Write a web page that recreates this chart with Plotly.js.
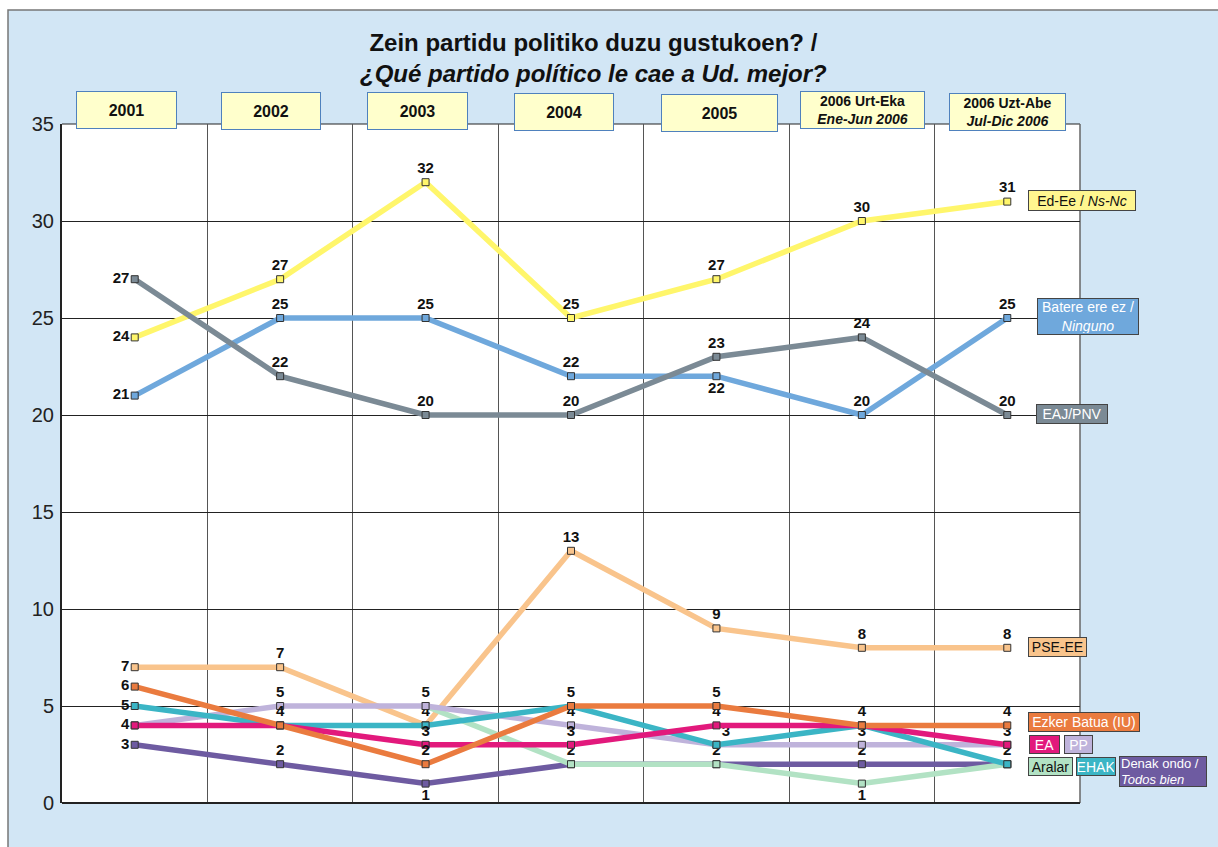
<!DOCTYPE html>
<html><head><meta charset="utf-8">
<script src="https://cdn.plot.ly/plotly-3.0.1.min.js"></script>
<style>body{margin:0;background:#fff}#chart{width:1218px;height:847px}</style>
</head><body><div id="chart"></div>
<script>
// ---- data ----
const periods = ["2001","2002","2003","2004","2005","2006 Urt-Eka","2006 Uzt-Abe"];
const headerLabels = ["<b>2001</b>","<b>2002</b>","<b>2003</b>","<b>2004</b>","<b>2005</b>",
  "<b>2006 Urt-Eka</b><br><b><i>Ene-Jun 2006</i></b>","<b>2006 Uzt-Abe</b><br><b><i>Jul-Dic 2006</i></b>"];
const seriesNames = ["Ed-Ee / Ns-Nc","Batere ere ez / Ninguno","EAJ/PNV","PSE-EE","Denak ondo / Todos bien","Aralar","PP","EHAK","EA","Ezker Batua (IU)"];
const edEe    = [24,27,32,25,27,30,31];
const batere  = [21,25,25,22,22,20,25];
const eajPnv  = [27,22,20,20,23,24,20];
const pseEe   = [7,7,4,13,9,8,8];
const denak   = [3,2,1,2,2,2,2];
const aralar  = [null,null,5,2,2,1,2];
const pp      = [4,5,5,4,3,3,3];
const ehak    = [5,4,4,5,3,4,2];
const ea      = [4,4,3,3,4,4,3];
const ezker   = [6,4,2,5,5,4,4];
// which points show a value label (1 = show)
const showEdEe   = [1,1,1,1,1,1,1];
const showBatere = [1,1,1,1,1,1,1];
const showEaj    = [1,1,1,1,1,1,1];
const showPse    = [1,1,1,1,1,1,1];
const showDenak  = [1,1,1,0,0,1,0];
const showAralar = [0,0,0,1,1,1,0];
const showPp     = [0,1,1,1,1,1,0];
const showEhak   = [1,0,0,0,0,0,1];
const showEa     = [1,0,1,1,1,0,1];
const showEzker  = [1,1,1,1,1,1,1];

// ---- styling ----
const colors = {ed:'#FFF66B',bat:'#6FA8DC',eaj:'#7B8A95',pse:'#F9C48C',den:'#6E5BA1',ara:'#B2E2C4',pp:'#BFB3DB',ehak:'#3BB5C5',ea:'#E2197C',eb:'#EA7B3F'};
const L=62,R=1080,T=124,B=803;
const px = x => (x-L)/(R-L);
const py = y => (B-y)/(B-T);

function pos(defaultPos, overrides){
  return periods.map((_,i)=> overrides[i]!==undefined ? overrides[i] : (i===0?'middle left':defaultPos));
}
function mk(name, y, show, color, positions){
  return {
    x: periods, y: y, name: name, type:'scatter', mode:'lines+markers+text',
    line:{color:color,width:5.5},
    marker:{symbol:'square',size:7,color:color,line:{color:'#333',width:1}},
    text: y.map((v,i)=> (show[i] && v!==null) ? String(v) : ''),
    textposition: positions,
    textfont:{family:'Liberation Sans, Arial, sans-serif',size:15,color:'#111',weight:'bold'},
    cliponaxis:false, hoverinfo:'x+y+name', showlegend:false
  };
}
const traces = [
  mk(seriesNames[0], edEe, showEdEe, colors.ed, pos('top center',{})),
  mk(seriesNames[1], batere, showBatere, colors.bat, pos('top center',{4:'bottom center'})),
  mk(seriesNames[2], eajPnv, showEaj, colors.eaj, pos('top center',{})),
  mk(seriesNames[3], pseEe, showPse, colors.pse, pos('top center',{})),
  mk(seriesNames[4], denak, showDenak, colors.den, pos('top center',{2:'bottom center'})),
  mk(seriesNames[5], aralar, showAralar, colors.ara, pos('top center',{5:'bottom center'})),
  mk(seriesNames[6], pp, showPp, colors.pp, pos('top center',{4:'top right'})),
  mk(seriesNames[7], ehak, showEhak, colors.ehak, pos('top center',{})),
  mk(seriesNames[8], ea, showEa, colors.ea, pos('top center',{})),
  mk(seriesNames[9], ezker, showEzker, colors.eb, pos('top center',{}))
];

const font = 'Liberation Sans, Arial, sans-serif';
const annotations = [];
// title
annotations.push({xref:'paper',yref:'paper',x:px(593),y:py(27),xanchor:'center',yanchor:'top',showarrow:false,
  text:'<b>Zein partidu politiko duzu gustukoen? /</b><br><b><i>¿Qué partido político le cae a Ud. mejor?</i></b>',
  font:{family:font,size:24,color:'#111'}});
// header boxes
const hdrShift=[-8,-9,-8,-7,3,1,0], hdrW=[97,96,97,96,113,121,113], hdrY=[110,111,111,112,113,110,112];
periods.forEach((p,i)=>{
  annotations.push({xref:'x',yref:'paper',x:i,y:py(hdrY[i]),xshift:hdrShift[i],xanchor:'center',yanchor:'middle',
    showarrow:false,text:headerLabels[i],width:hdrW[i],height:34,bgcolor:'#FFFFCC',bordercolor:'#4F81BD',borderwidth:1,borderpad:1,
    font:{family:font,size:(i>=5?14:16),color:'#111'}});
});
// right-side series labels
function lab(text,xl,yc,bg,fc,w,h){
  annotations.push({xref:'paper',yref:'paper',x:px(xl),y:py(yc),xanchor:'left',yanchor:'middle',showarrow:false,
    text:text,bgcolor:bg,bordercolor:'#444',borderwidth:1,borderpad:1,width:w,height:h,
    font:{family:font,size:14,color:fc}});
}
lab('Ed-Ee / <i>Ns-Nc</i>',1028,200,'#FFF68F','#111',104,17);
lab('Batere ere ez /<br><i>Ninguno</i>',1037,316,colors.bat,'#fff',98,33);
lab('EAJ/PNV',1036,414,colors.eaj,'#fff',68,16);
lab('PSE-EE',1028,647,colors.pse,'#111',55,16);
lab('Ezker Batua (IU)',1028,722,colors.eb,'#fff',108,16);
lab('EA',1029,744,colors.ea,'#fff',27,15);
lab('PP',1064,744,colors.pp,'#fff',25,15);
lab('Aralar',1028,766,colors.ara,'#111',41,15);
lab('EHAK',1076,766,colors.ehak,'#fff',36,15);
annotations.push({xref:'paper',yref:'paper',x:px(1119),y:py(771),xanchor:'left',yanchor:'middle',showarrow:false,
  text:'Denak ondo /<br><i>Todos bien</i>',align:'left',bgcolor:colors.den,bordercolor:'#444',borderwidth:1,borderpad:1,width:84,height:27,
  font:{family:font,size:13,color:'#fff'}});

const layout = {
  width:1218,height:847,
  margin:{l:L,r:1218-R,t:T,b:847-B,pad:0},
  paper_bgcolor:'#ffffff', plot_bgcolor:'#ffffff',
  font:{family:font},
  showlegend:false,
  xaxis:{type:'category',range:[-0.5,6.5],tickson:'boundaries',showgrid:true,gridcolor:'#555',gridwidth:1,
    showticklabels:false,ticks:'',zeroline:false,showline:false,fixedrange:true},
  yaxis:{range:[0,35],tickvals:[0,5,10,15,20,25,30,35],ticktext:['0','5','10','15','20','25','30','35'],
    showgrid:true,gridcolor:'#222',gridwidth:1,zeroline:true,zerolinecolor:'#222',zerolinewidth:2,
    showline:true,linecolor:'#222',linewidth:2,ticks:'',ticklabelstandoff:2,
    tickfont:{family:font,size:20,color:'#222'},fixedrange:true},
  shapes:[
    {type:'rect',xref:'paper',yref:'paper',x0:px(8),x1:px(1240),y0:py(870),y1:py(10),
     fillcolor:'#D2E6F5',line:{color:'#777',width:1.5},layer:'below'},
    {type:'rect',xref:'paper',yref:'paper',x0:0,x1:1,y0:0,y1:1,
     fillcolor:'#ffffff',line:{width:0},layer:'below'},
    {type:'line',xref:'paper',yref:'paper',x0:0,x1:1,y0:1,y1:1,line:{color:'#222',width:1},layer:'below'},
    {type:'line',xref:'paper',yref:'paper',x0:1,x1:1,y0:0,y1:1,line:{color:'#666',width:1.5},layer:'below'}
  ],
  annotations:annotations
};
Plotly.newPlot('chart',traces,layout,{displayModeBar:false,staticPlot:true});
</script></body></html>
